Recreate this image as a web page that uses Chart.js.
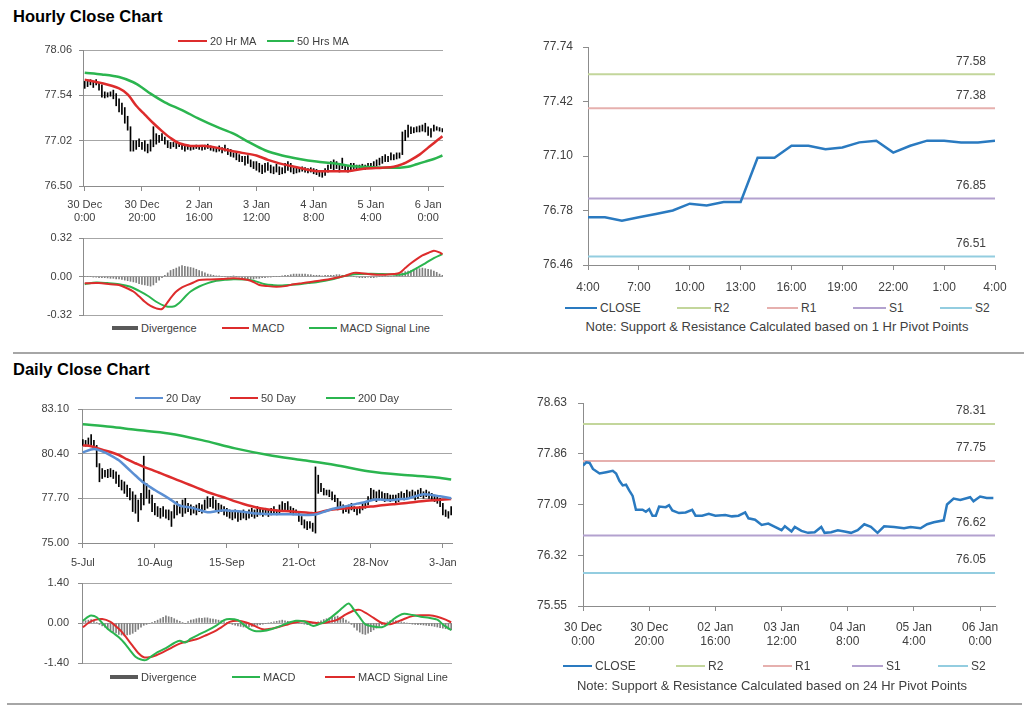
<!DOCTYPE html>
<html>
<head>
<meta charset="utf-8">
<title>Hourly / Daily Close Charts</title>
<script src="https://cdn.jsdelivr.net/npm/chart.js@4.4.1/dist/chart.umd.min.js"></script>
<style>
  body { margin: 0; width: 1024px; height: 706px; position: relative; overflow: hidden; background: #fff;
         font-family: "Liberation Sans", Arial, sans-serif; color: #404040; }
  canvas, .lg, .note, h2, .rule { position: absolute; }
  h2 { margin: 0; font-size: 16.5px; line-height: 18px; font-weight: bold; color: #000; }
  .rule { height: 2px; background: #a6a6a6; }
  .lg { display: flex; align-items: center; height: 14px; font-size: 11px; white-space: nowrap; }
  .lg.big { font-size: 12px; }
  .lg i { display: inline-block; height: 2px; margin-right: 3px; }
  .note { font-size: 13px; line-height: 14px; text-align: center; white-space: nowrap; }
</style>
</head>
<body>
<h2 style="left:13px;top:7px">Hourly Close Chart</h2>
<h2 style="left:13px;top:360px">Daily Close Chart</h2>
<div class="rule" style="left:13px;top:352px;width:1011px"></div>
<div class="rule" style="left:7px;top:703px;width:1015px"></div>

<canvas id="hourPrice" width="460" height="190" style="left:0;top:40px"></canvas>
<canvas id="hourMacd" width="460" height="88" style="left:0;top:232px"></canvas>
<canvas id="hourPivot" width="490" height="262" style="left:520px;top:36px"></canvas>
<canvas id="dayPrice" width="470" height="180" style="left:0;top:400px"></canvas>
<canvas id="dayMacd" width="470" height="92" style="left:0;top:576px"></canvas>
<canvas id="dayPivot" width="490" height="260" style="left:520px;top:392px"></canvas>

<!-- legends -->
<div class="lg" style="left:178px;top:34px"><i style="width:29px;background:#dd2c2c"></i>20 Hr MA</div>
<div class="lg" style="left:267px;top:34px"><i style="width:27px;background:#2bb54f"></i>50 Hrs MA</div>

<div class="lg" style="left:112px;top:321px"><i style="width:26px;height:4px;background:#595959"></i>Divergence</div>
<div class="lg" style="left:222px;top:321px"><i style="width:27px;background:#dd2c2c"></i>MACD</div>
<div class="lg" style="left:309px;top:321px"><i style="width:28px;background:#2bb54f"></i>MACD Signal Line</div>

<div class="lg big" style="left:565px;top:301px"><i style="width:32px;background:#2a7ac0"></i>CLOSE</div>
<div class="lg big" style="left:677px;top:301px"><i style="width:34px;background:#c3d69b"></i>R2</div>
<div class="lg big" style="left:767px;top:301px"><i style="width:31px;background:#e6b0ae"></i>R1</div>
<div class="lg big" style="left:853px;top:301px"><i style="width:33px;background:#b3a2cf"></i>S1</div>
<div class="lg big" style="left:940px;top:301px"><i style="width:32px;background:#93cde0"></i>S2</div>
<div class="note" style="left:577px;width:400px;top:320px">Note: Support &amp; Resistance Calculated based on 1 Hr Pivot Points</div>

<div class="lg" style="left:135px;top:391px"><i style="width:28px;background:#5b8fd3"></i>20 Day</div>
<div class="lg" style="left:230px;top:391px"><i style="width:28px;background:#dd2c2c"></i>50 Day</div>
<div class="lg" style="left:326px;top:391px"><i style="width:29px;background:#2bb54f"></i>200 Day</div>

<div class="lg" style="left:110px;top:670px"><i style="width:28px;height:4px;background:#595959"></i>Divergence</div>
<div class="lg" style="left:232px;top:670px"><i style="width:28px;background:#2bb54f"></i>MACD</div>
<div class="lg" style="left:325px;top:670px"><i style="width:30px;background:#dd2c2c"></i>MACD Signal Line</div>

<div class="lg big" style="left:563px;top:659px"><i style="width:29px;background:#2a7ac0"></i>CLOSE</div>
<div class="lg big" style="left:676px;top:659px"><i style="width:29px;background:#c3d69b"></i>R2</div>
<div class="lg big" style="left:763px;top:659px"><i style="width:29px;background:#e6b0ae"></i>R1</div>
<div class="lg big" style="left:852px;top:659px"><i style="width:31px;background:#b3a2cf"></i>S1</div>
<div class="lg big" style="left:938px;top:659px"><i style="width:30px;background:#93cde0"></i>S2</div>
<div class="note" style="left:572px;width:400px;top:679px">Note: Support &amp; Resistance Calculated based on 24 Hr Pivot Points</div>

<script>
// ---- tick labels ----
const hourTickLabels = [["30 Dec", "0:00"], ["30 Dec", "20:00"], ["2 Jan", "16:00"], ["3 Jan", "12:00"],
  ["4 Jan", "8:00"], ["5 Jan", "4:00"], ["6 Jan", "0:00"]];
const pivotTickLabels = [["30 Dec", "0:00"], ["30 Dec", "20:00"], ["02 Jan", "16:00"], ["03 Jan", "12:00"],
  ["04 Jan", "8:00"], ["05 Jan", "4:00"], ["06 Jan", "0:00"]];
const dayTickLabels = ["5-Jul", "10-Aug", "15-Sep", "21-Oct", "28-Nov", "3-Jan"];
const hourOfDay = ["4:00", "7:00", "10:00", "13:00", "16:00", "19:00", "22:00", "1:00", "4:00"];

const hourPriceTicks = [76.50, 77.02, 77.54, 78.06];
const hourMacdTicks = [-0.32, 0, 0.32];
const hourPivotTicks = [76.46, 76.78, 77.10, 77.42, 77.74];
const dayPriceTicks = [75.00, 77.70, 80.40, 83.10];
const dayMacdTicks = [-1.40, 0, 1.40];
const dayPivotTicks = [75.55, 76.32, 77.09, 77.86, 78.63];

// ---- hourly bars (low / high), one per hour ----
const hourLow = [
  77.62,77.64,77.66,77.63,77.66,77.60,77.52,77.51,77.52,77.53,
  77.50,77.42,77.35,77.32,77.22,77.14,76.90,76.90,76.92,76.95,
  76.92,76.90,76.88,76.90,76.95,76.98,77.00,77.02,76.98,76.94,
  76.93,76.95,76.93,76.95,76.92,76.90,76.92,76.91,76.92,76.93,
  76.92,76.91,76.92,76.93,76.91,76.90,76.89,76.90,76.88,76.90,
  76.86,76.84,76.83,76.80,76.78,76.78,76.74,76.76,76.72,76.70,
  76.68,76.66,76.64,76.66,76.68,76.65,76.64,76.66,76.63,76.64,
  76.65,76.68,76.66,76.64,76.65,76.66,76.67,76.66,76.65,76.66,
  76.64,76.63,76.61,76.60,76.62,76.66,76.70,76.68,76.70,76.66,
  76.70,76.67,76.66,76.68,76.70,76.68,76.69,76.70,76.69,76.70,
  76.71,76.72,76.73,76.74,76.76,76.78,76.78,76.80,76.80,76.81,
  76.82,76.86,77.02,77.06,77.10,77.11,77.12,77.12,77.13,77.12,
  77.08,77.06,77.13,77.14,77.13,77.12];
const hourHigh = [
  77.70,77.72,77.72,77.70,77.72,77.68,77.66,77.58,77.57,77.58,
  77.60,77.56,77.50,77.45,77.40,77.30,77.18,77.02,77.02,77.04,
  77.00,77.02,76.98,77.03,77.18,77.10,77.08,77.10,77.06,77.02,
  77.00,77.00,76.99,77.00,76.98,76.97,76.97,76.96,76.96,76.97,
  76.96,76.96,76.97,76.98,76.96,76.95,76.94,76.96,76.94,76.97,
  76.93,76.92,76.88,76.88,76.86,76.84,76.84,76.85,76.80,76.78,
  76.78,76.76,76.74,76.76,76.77,76.74,76.72,76.75,76.72,76.71,
  76.76,76.78,76.76,76.71,76.72,76.70,76.72,76.71,76.70,76.71,
  76.70,76.69,76.68,76.67,76.70,76.74,76.78,76.80,76.78,76.76,
  76.82,76.74,76.73,76.76,76.76,76.74,76.74,76.75,76.74,76.76,
  76.76,76.78,76.80,76.82,76.84,76.86,76.84,76.88,76.86,76.88,
  76.88,77.12,77.14,77.20,77.18,77.17,77.18,77.19,77.20,77.22,
  77.18,77.16,77.20,77.18,77.17,77.16];

// moving averages, [hour index, value]
const ma20Hr = [[0,77.72],[6,77.68],[12,77.62],[15,77.55],[18,77.42],[21,77.32],[24,77.22],[27,77.13],
  [30,77.05],[33,76.99],[37,76.96],[42,76.96],[46,76.94],[50,76.91],[55,76.88],[60,76.85],[64,76.80],
  [68,76.76],[72,76.73],[76,76.70],[81,76.67],[86,76.67],[92,76.67],[98,76.70],[104,76.71],[108,76.72],
  [111,76.75],[114,76.80],[117,76.86],[120,76.94],[123,77.02],[125,77.07]];
const ma50Hr = [[0,77.80],[6,77.78],[12,77.75],[17,77.69],[20,77.63],[23,77.56],[28,77.46],[34,77.37],
  [40,77.27],[46,77.18],[52,77.10],[57,77.01],[63,76.91],[69,76.85],[75,76.81],[81,76.78],[87,76.76],
  [93,76.73],[98,76.72],[104,76.71],[110,76.71],[113,76.72],[116,76.75],[119,76.78],[122,76.81],[125,76.85]];

// hourly MACD
const hourMacd = [[0,-0.056],[5,-0.055],[9,-0.065],[12,-0.07],[15,-0.1],[17,-0.125],[19,-0.165],[21,-0.21],
  [23,-0.245],[25,-0.265],[27,-0.27],[28.5,-0.23],[30,-0.18],[32,-0.125],[34,-0.09],[36,-0.07],[38,-0.05],
  [40,-0.03],[44,-0.025],[48,-0.02],[52,-0.015],[55,-0.02],[58,-0.035],[61,-0.07],[64,-0.08],[67,-0.085],
  [70,-0.08],[73,-0.065],[76,-0.055],[79,-0.045],[82,-0.035],[85,-0.025],[88,-0.01],[91,0.005],[94,0.03],
  [96,0.03],[99,0.02],[102,0.015],[105,0.015],[108,0.02],[110,0.03],[112,0.07],[114,0.11],[116,0.145],
  [118,0.175],[120,0.195],[122,0.215],[124,0.2],[125,0.185]];
const hourSignal = [[0,-0.064],[4,-0.05],[8,-0.055],[12,-0.064],[16,-0.085],[19,-0.12],[22,-0.16],[25,-0.21],
  [28,-0.245],[31,-0.25],[33,-0.22],[35,-0.17],[37,-0.125],[40,-0.083],[43,-0.055],[46,-0.036],[49,-0.028],
  [52,-0.022],[56,-0.025],[59,-0.035],[63,-0.064],[66,-0.072],[69,-0.075],[72,-0.07],[75,-0.064],[78,-0.055],
  [81,-0.047],[84,-0.035],[87,-0.02],[90,0],[93,0.014],[96,0.02],[100,0.022],[104,0.02],[108,0.016],
  [110,0.014],[113,0.03],[116,0.07],[119,0.11],[122,0.153],[125,0.186]];
const hourDiv = [
  0,0,0,-0.005,-0.005,-0.01,-0.01,-0.01,-0.012,-0.015,
  -0.015,-0.02,-0.02,-0.025,-0.03,-0.035,-0.04,-0.045,-0.05,-0.06,
  -0.065,-0.07,-0.075,-0.08,-0.07,-0.05,-0.03,-0.01,0.01,0.03,
  0.05,0.06,0.07,0.08,0.09,0.085,0.08,0.075,0.07,0.06,
  0.05,0.04,0.03,0.02,0.015,0.01,0.005,0.005,0,0,
  -0.005,0,0.005,0,-0.005,-0.01,-0.015,-0.02,-0.02,-0.02,
  -0.015,-0.015,-0.01,-0.01,-0.005,-0.005,0,0,0,0.005,
  0.01,0.01,0.015,0.02,0.02,0.02,0.02,0.02,0.015,0.015,
  0.01,0.01,0.01,0.005,0.01,0.01,0.01,0.01,0.015,0.015,
  0.01,0.01,0.01,0.005,0,-0.005,-0.01,-0.01,-0.01,-0.005,
  -0.01,-0.01,-0.005,0,0,0.005,0,0,0.005,0.01,
  0.02,0.03,0.04,0.045,0.05,0.055,0.06,0.065,0.07,0.065,
  0.06,0.055,0.045,0.035,0.02,0.01];

// last 24 hours close + 1 Hr pivots
const lastDayClose = [76.74,76.74,76.72,76.74,76.76,76.78,76.82,76.81,76.83,76.83,77.09,77.09,77.16,
  77.16,77.14,77.15,77.18,77.19,77.12,77.16,77.19,77.19,77.18,77.18,77.19];
const pivots1Hr = [77.58, 77.38, 76.85, 76.51];   // R2, R1, S1, S2

// ---- daily bars (low / high) ----
const dayLow = [
  80.90,80.85,80.95,80.90,80.70,79.60,78.70,78.90,79.00,78.95,
  79.00,78.90,78.60,78.40,78.20,78.00,77.80,77.60,76.90,76.80,
  76.30,77.00,77.30,77.70,77.40,76.90,76.70,76.60,76.50,76.60,
  76.50,76.40,76.00,76.50,76.70,76.80,76.60,76.80,76.90,76.70,
  76.80,76.70,76.90,76.80,77.00,77.10,77.20,77.10,77.00,76.80,
  76.90,76.70,76.60,76.50,76.40,76.50,76.30,76.40,76.50,76.40,
  76.50,76.60,76.50,76.60,76.70,76.60,76.70,76.60,76.70,76.80,
  76.70,76.80,77.00,76.90,77.00,76.80,76.70,76.80,76.30,76.10,
  75.90,75.80,75.90,75.70,75.60,78.00,78.10,77.90,77.90,77.80,
  77.60,77.50,77.00,77.10,76.80,76.90,76.80,77.00,76.90,76.70,
  76.80,77.00,77.10,77.30,77.60,77.70,77.50,77.60,77.70,77.50,
  77.60,77.50,77.60,77.40,77.50,77.70,77.60,77.70,77.70,77.80,
  77.60,77.70,77.80,77.70,77.80,77.70,77.60,77.50,77.40,77.20,
  76.70,76.60,76.50,76.70];
const dayHigh = [
  81.25,81.20,81.35,81.55,81.20,80.90,79.80,79.50,79.40,79.45,
  79.50,79.40,79.30,79.10,78.80,78.70,78.50,78.30,78.10,77.90,
  77.60,78.00,80.25,78.60,78.20,77.90,77.40,77.20,77.10,77.20,
  77.00,77.00,76.90,77.30,77.50,77.30,77.60,77.70,77.40,77.30,
  77.20,77.30,77.40,77.30,77.60,77.80,77.70,77.80,77.60,77.40,
  77.30,77.20,77.10,77.00,76.90,77.00,76.90,76.90,77.00,76.90,
  77.00,77.10,77.00,77.20,77.10,77.00,77.10,77.00,77.10,77.20,
  77.00,77.30,77.50,77.40,77.50,77.20,77.10,77.00,76.80,76.60,
  76.40,76.30,76.30,76.20,79.60,79.10,78.60,78.30,78.20,78.20,
  78.10,77.90,77.70,77.50,77.30,77.20,77.30,77.40,77.20,77.10,
  77.20,77.40,77.50,77.80,78.30,78.20,78.10,78.20,78.10,78.00,
  78.00,77.90,77.90,77.90,78.00,78.10,78.00,78.20,78.10,78.20,
  78.10,78.20,78.30,78.10,78.20,78.10,78.00,77.90,77.80,77.70,
  77.40,77.00,76.90,77.20];

const ma20Day = [[0,80.48],[4,80.68],[7,80.54],[10,80.30],[13,80.00],[16,79.55],[19,79.08],[22,78.64],
  [26,78.20],[31,77.70],[35,77.26],[39,77.14],[42,77.00],[45,76.86],[48,76.92],[51,76.98],[54,76.94],
  [57,76.90],[60,76.84],[63,76.78],[66,76.76],[69,76.74],[72,76.74],[75,76.74],[78,76.72],[81,76.70],
  [84,76.72],[87,76.88],[90,77.06],[93,77.16],[96,77.26],[99,77.38],[102,77.48],[105,77.62],[108,77.62],
  [111,77.58],[114,77.64],[117,77.68],[120,77.82],[123,77.94],[126,77.90],[129,77.82],[133,77.70]];
const ma50Day = [[0,80.90],[3,80.85],[7,80.64],[10,80.50],[13,80.32],[16,80.05],[19,79.82],[22,79.60],
  [25,79.42],[28,79.22],[31,79.02],[34,78.82],[37,78.62],[40,78.42],[43,78.22],[46,78.02],[49,77.86],
  [52,77.70],[55,77.52],[58,77.36],[61,77.22],[64,77.10],[67,77.02],[70,76.96],[73,76.93],[76,76.90],
  [79,76.86],[82,76.82],[84,76.80],[86,76.88],[89,77.00],[92,77.06],[96,77.10],[100,77.15],[104,77.20],
  [108,77.28],[112,77.34],[116,77.40],[120,77.48],[124,77.55],[128,77.60],[133,77.66]];
const ma200Day = [[0,82.18],[10,82.02],[19,81.84],[31,81.62],[43,81.22],[55,80.72],[67,80.32],[79,80.02],
  [91,79.72],[103,79.34],[115,79.12],[127,78.97],[133,78.84]];

// daily MACD
const dayMacd = [[0,0.08],[2,0.22],[3,0.26],[5,0.2],[7,0],[9,-0.21],[11,-0.35],[13,-0.5],[15,-0.7],
  [17,-0.95],[19,-1.18],[21,-1.28],[23,-1.29],[25,-1.15],[27,-1.02],[30,-0.88],[33,-0.7],[35,-0.62],
  [37,-0.68],[39,-0.55],[42,-0.4],[45,-0.26],[48,-0.1],[51,0.1],[53,0.14],[56,0.1],[58,-0.05],[60,-0.2],
  [62,-0.28],[65,-0.28],[68,-0.22],[71,-0.12],[74,0],[77,0.08],[80,0.05],[83,-0.1],[85,-0.05],[87,0.02],
  [89,0.15],[92,0.38],[94,0.55],[96,0.68],[98,0.45],[100,0.2],[102,-0.05],[105,-0.12],[108,-0.15],
  [110,-0.05],[112,0.12],[114,0.25],[116,0.32],[119,0.28],[122,0.22],[125,0.18],[128,0.12],[130,-0.05],[133,-0.25]];
const daySignal = [[0,-0.15],[2,0],[4,0.1],[7,0.14],[10,0.04],[12,-0.12],[14,-0.3],[16,-0.55],[18,-0.8],
  [20,-1.05],[22,-1.2],[24,-1.2],[26,-1.15],[29,-1.02],[32,-0.87],[35,-0.72],[38,-0.64],[41,-0.57],
  [44,-0.45],[47,-0.32],[50,-0.15],[53,0.04],[56,0.08],[59,0.02],[62,-0.1],[65,-0.22],[68,-0.2],
  [71,-0.13],[74,-0.05],[77,0.03],[80,0.06],[83,0.02],[86,-0.01],[89,0.04],[92,0.12],[95,0.3],[98,0.44],
  [100,0.46],[102,0.36],[105,0.18],[108,0],[111,-0.04],[113,0.02],[116,0.14],[119,0.24],[122,0.27],
  [125,0.27],[128,0.22],[131,0.12],[133,0.02]];
const dayDiv = [
  0.05,0.08,0.1,0.12,0.08,0.02,-0.05,-0.1,-0.15,-0.2,
  -0.25,-0.3,-0.35,-0.4,-0.42,-0.45,-0.42,-0.4,-0.36,-0.3,
  -0.22,-0.15,-0.08,-0.05,-0.02,0.02,0.06,0.1,0.15,0.2,
  0.25,0.22,0.2,0.15,0.1,0.06,0.02,-0.02,0.05,0.1,
  0.12,0.15,0.17,0.16,0.18,0.18,0.15,0.14,0.12,0.1,
  0.08,0.05,0.02,-0.02,-0.05,-0.08,-0.1,-0.12,-0.14,-0.15,
  -0.14,-0.12,-0.1,-0.08,-0.06,-0.04,-0.02,0,0.02,0.04,
  0.06,0.08,0.1,0.08,0.06,0.05,0.04,0.02,0,-0.02,
  -0.04,-0.06,-0.05,-0.03,0,0.04,0.08,0.12,0.15,0.18,
  0.2,0.22,0.24,0.2,0.16,0.1,0.04,-0.05,-0.15,-0.25,
  -0.32,-0.38,-0.4,-0.36,-0.3,-0.24,-0.18,-0.12,-0.06,0,
  0.04,0.08,0.1,0.08,0.06,0.04,0.02,0,-0.02,-0.04,
  -0.05,-0.06,-0.06,-0.07,-0.08,-0.09,-0.1,-0.12,-0.14,-0.16,
  -0.18,-0.2,-0.22,-0.24];

// hourly close since 30 Dec + 24 Hr pivots, [hour index, value]
const hourClose = [[0,77.68],[1,77.73],[2,77.72],[3,77.63],[5,77.56],[7,77.58],[9,77.60],[10,77.56],
  [11,77.45],[12,77.38],[13,77.39],[14,77.30],[15,77.22],[16,77.01],[18,77.01],[19,76.98],[20,77.02],
  [21,76.92],[22,76.92],[23,77.06],[25,77.05],[26,77.08],[27,77.00],[29,76.96],[31,76.97],[33,77.01],
  [34,76.92],[36,76.92],[38,76.95],[40,76.92],[43,76.93],[45,76.91],[47,76.92],[49,76.97],[50,76.88],
  [52,76.86],[54,76.78],[56,76.80],[58,76.75],[60,76.70],[61,76.76],[63,76.68],[64,76.75],[66,76.69],
  [68,76.66],[70,76.67],[72,76.75],[73,76.66],[75,76.67],[77,76.70],[79,76.68],[81,76.66],[83,76.70],
  [85,76.79],[87,76.75],[89,76.66],[91,76.76],[94,76.75],[97,76.73],[99,76.75],[102,76.73],[104,76.79],
  [106,76.82],[109,76.85],[110,77.09],[112,77.18],[114,77.16],[117,77.20],[118,77.14],[120,77.21],
  [122,77.19],[124,77.19]];
const pivots24Hr = [78.31, 77.75, 76.62, 76.05];  // R2, R1, S1, S2

// ---- styling ----
const RED = "#dd2c2c", GREEN = "#2bb54f", BLUE = "#5b8fd3", CLOSE_BLUE = "#2a7ac0";
const LEVEL_COLORS = ["#c3d69b", "#e6b0ae", "#b3a2cf", "#93cde0"];
const GRID = "#a6a6a6", AXIS = "#8c8c8c";

Chart.defaults.font.family = '"Liberation Sans", Arial, sans-serif';
Chart.defaults.color = "#404040";
Chart.defaults.animation = false;
Chart.defaults.plugins.legend.display = false;
Chart.defaults.plugins.tooltip.enabled = false;
Chart.defaults.elements.point.radius = 0;

const pts = (list) => list.map(([x, y]) => ({ x, y }));
const bars = (lo, hi) => lo.map((l, i) => ({ x: i, y: [l, hi[i]] }));
const series = (vals) => vals.map((y, i) => ({ x: i, y }));

function yScale(ticks, width, size, pad, gridOn) {
  return {
    type: "linear", min: ticks[0], max: ticks[ticks.length - 1],
    afterBuildTicks: (s) => { s.ticks = ticks.map((v) => ({ value: v })); },
    afterFit: (s) => { s.width = width; s.paddingTop = 0; s.paddingBottom = 0; },
    ticks: { font: { size }, padding: pad, callback: (v) => v.toFixed(2) },
    grid: { color: GRID, drawOnChartArea: gridOn, tickLength: gridOn ? 4 : 5, tickColor: AXIS },
    border: { color: AXIS },
  };
}

function xScale(min, max, tickVals, labels, height, size, pad) {
  return {
    type: "linear", min, max, offset: false,
    afterBuildTicks: (s) => { s.ticks = tickVals.map((v) => ({ value: v })); },
    afterFit: (s) => { s.height = height; s.paddingLeft = 0; s.paddingRight = 0; },
    ticks: { font: { size }, padding: pad, maxRotation: 0, autoSkip: false, callback: (v, i) => labels[i] },
    grid: { offset: false, drawOnChartArea: false, tickLength: 5, color: AXIS },
    border: { color: AXIS },
  };
}

const hiddenX = (min, max) => ({ type: "linear", min, max, offset: false, display: false });

function line(data, color, width, order) {
  return { type: "line", data, borderColor: color, borderWidth: width, tension: 0.3, order };
}

function levelLines(levels, x0, x1) {
  return levels.map((v, i) => ({
    type: "line", data: [{ x: x0, y: v }, { x: x1, y: v }],
    borderColor: LEVEL_COLORS[i], borderWidth: 2, order: 2,
  }));
}

// value labels sitting just above each pivot line
const levelLabels = {
  id: "levelLabels",
  afterDatasetsDraw(chart, args, opts) {
    const { ctx, chartArea, scales } = chart;
    ctx.save();
    ctx.font = '12px "Liberation Sans", Arial, sans-serif';
    ctx.fillStyle = "#404040";
    ctx.textAlign = "right";
    ctx.textBaseline = "middle";
    (opts.values || []).forEach((v) => {
      ctx.fillText(v.toFixed(2), chartArea.right - 9, scales.y.getPixelForValue(v) - 13);
    });
    ctx.restore();
  },
};

function make(id, datasets, scales, padding, extra) {
  return new Chart(document.getElementById(id), {
    type: "bar",
    data: { datasets },
    plugins: extra ? [levelLabels] : [],
    options: {
      responsive: false,
      layout: { padding },
      scales,
      plugins: extra ? { levelLabels: { values: extra } } : {},
    },
  });
}

// ---- hourly ----
make("hourPrice", [
  line(pts(ma20Hr), RED, 2.5, 0),
  line(pts(ma50Hr), GREEN, 2.5, 0),
  { type: "bar", data: bars(hourLow, hourHigh), backgroundColor: "#000", barThickness: 1, order: 1 },
], {
  x: xScale(-0.6, 125.2, [0, 20, 40, 60, 80, 100, 120], hourTickLabels, 44, 11, 7),
  y: yScale(hourPriceTicks, 83, 11, 7, true),
}, { top: 10, right: 17 });

make("hourMacd", [
  line(pts(hourMacd), RED, 2, 0),
  line(pts(hourSignal), GREEN, 2, 0),
  { type: "bar", data: series(hourDiv), backgroundColor: "#7f7f7f", barThickness: 1, order: 1 },
], {
  x: hiddenX(-0.6, 125.2),
  y: yScale(hourMacdTicks, 83, 11, 7, true),
}, { top: 6, right: 17, bottom: 5 });

make("hourPivot", [
  { type: "line", data: series(lastDayClose), borderColor: CLOSE_BLUE, borderWidth: 2.5, tension: 0, order: 0 },
  ...levelLines(pivots1Hr, 0, 24),
], {
  x: xScale(0, 24, [0, 3, 6, 9, 12, 15, 18, 21, 24], hourOfDay, 33, 12, 10),
  y: yScale(hourPivotTicks, 68, 12, 10, false),
}, { top: 11, right: 15 }, pivots1Hr);

// ---- daily ----
make("dayPrice", [
  line(pts(ma20Day), BLUE, 2.5, 0),
  line(pts(ma50Day), RED, 2.5, 0),
  line(pts(ma200Day), GREEN, 2.5, 0),
  { type: "bar", data: bars(dayLow, dayHigh), backgroundColor: "#000", barThickness: 1, order: 1 },
], {
  x: xScale(-0.3, 133.3, [0, 26, 52, 78, 104, 130], dayTickLabels, 37, 11, 8),
  y: yScale(dayPriceTicks, 82, 11, 9, true),
}, { top: 9, right: 18 });

make("dayMacd", [
  line(pts(dayMacd), GREEN, 2, 0),
  line(pts(daySignal), RED, 2, 0),
  { type: "bar", data: series(dayDiv), backgroundColor: "#7f7f7f", barThickness: 1, order: 1 },
], {
  x: hiddenX(-0.3, 133.3),
  y: yScale(dayMacdTicks, 82, 11, 9, true),
}, { top: 7, right: 18, bottom: 5 });

make("dayPivot", [
  { type: "line", data: pts(hourClose), borderColor: CLOSE_BLUE, borderWidth: 2.5, tension: 0, order: 0 },
  ...levelLines(pivots24Hr, 0, 124.5),
], {
  x: xScale(0, 124.5, [0, 20, 40, 60, 80, 100, 120], pivotTickLabels, 46, 12, 9),
  y: yScale(dayPivotTicks, 63, 12, 11, false),
}, { top: 11, right: 15 }, pivots24Hr);
</script>
</body>
</html>
